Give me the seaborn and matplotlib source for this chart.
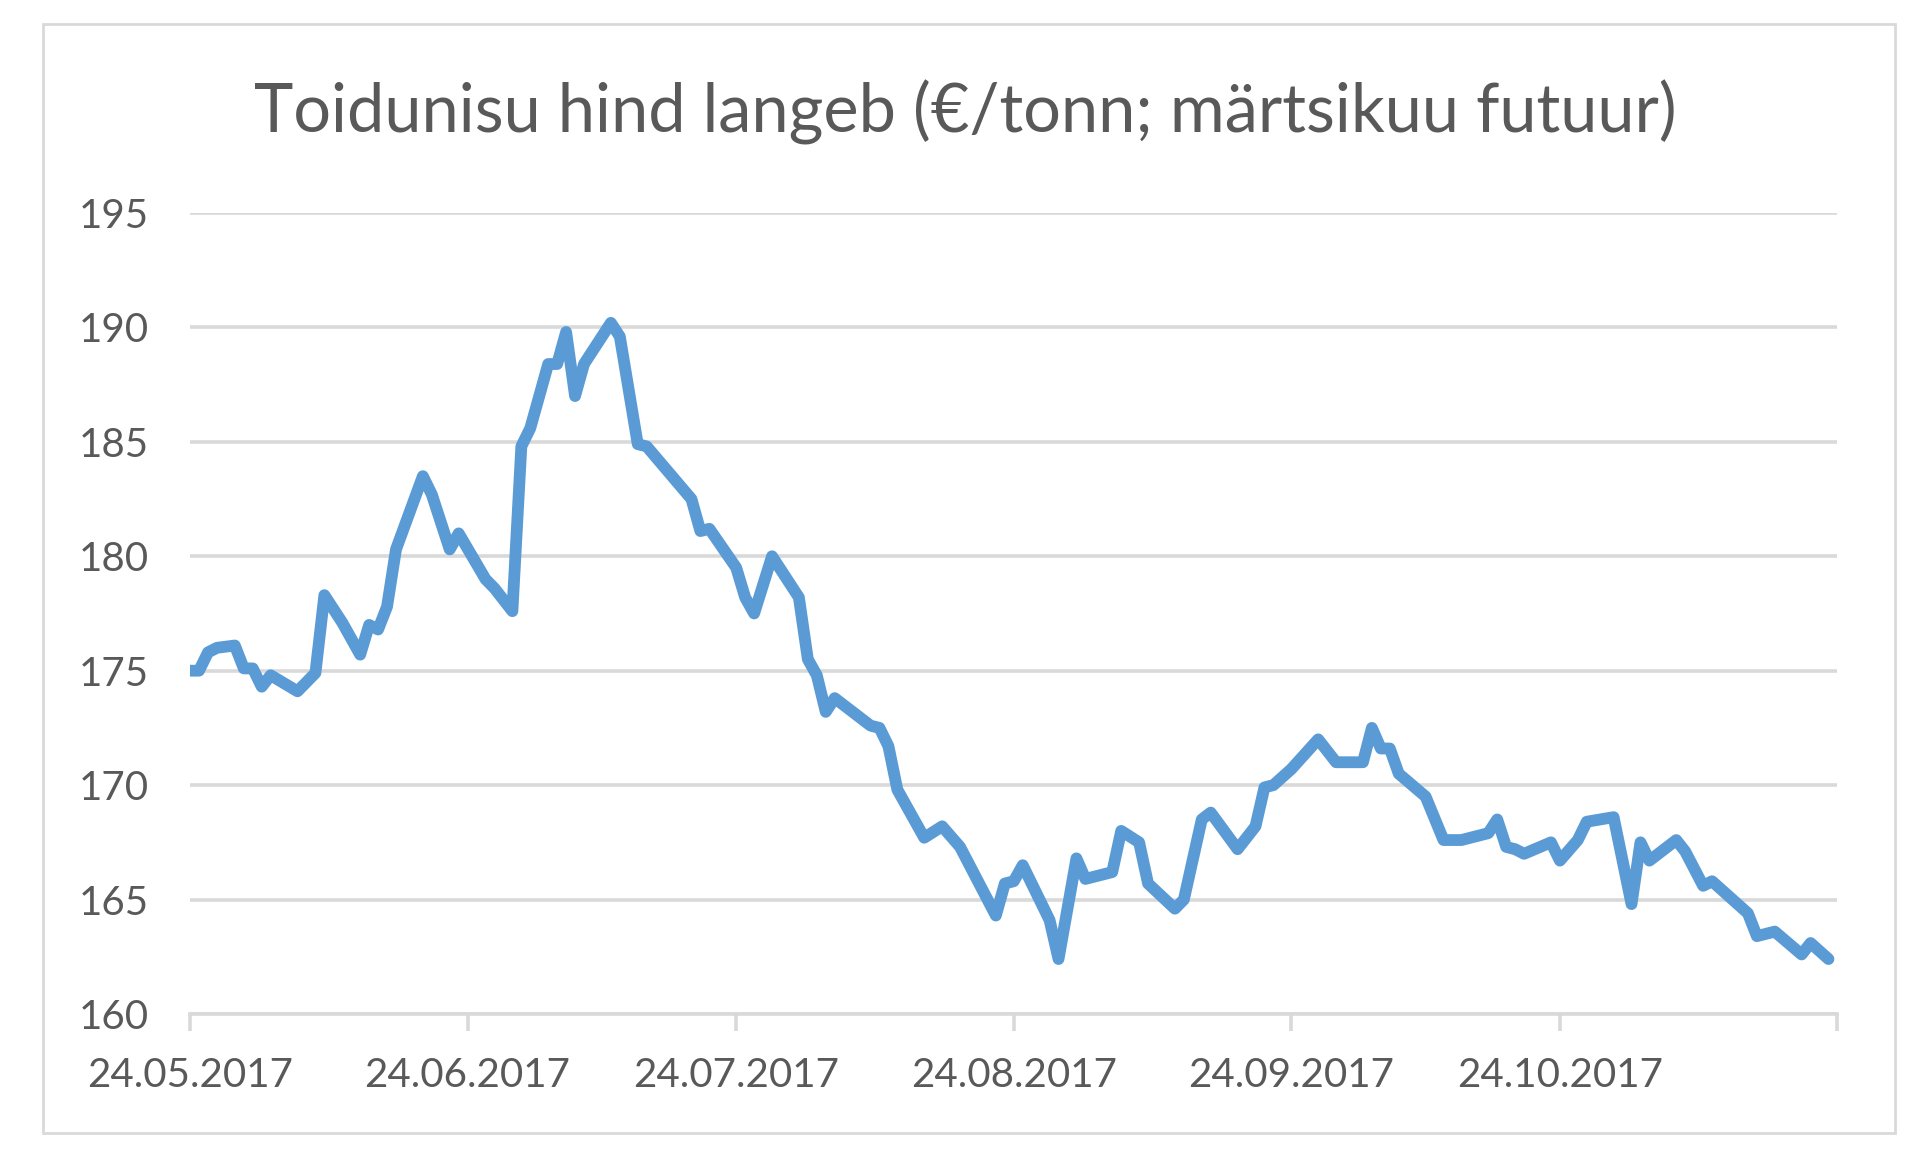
import pandas as pd
import seaborn as sns
import matplotlib.pyplot as plt
from matplotlib.patches import Rectangle

# data
dates = [
    "2017-05-24", "2017-05-25", "2017-05-26", "2017-05-27", "2017-05-29", "2017-05-30", "2017-05-31", "2017-06-01", "2017-06-02", "2017-06-05",
    "2017-06-07", "2017-06-08", "2017-06-10", "2017-06-12", "2017-06-13", "2017-06-14", "2017-06-15", "2017-06-16", "2017-06-19", "2017-06-20",
    "2017-06-22", "2017-06-23", "2017-06-26", "2017-06-27", "2017-06-29", "2017-06-30", "2017-07-01", "2017-07-03", "2017-07-04", "2017-07-05",
    "2017-07-06", "2017-07-07", "2017-07-10", "2017-07-11", "2017-07-13", "2017-07-14", "2017-07-19", "2017-07-20", "2017-07-21", "2017-07-24",
    "2017-07-25", "2017-07-26", "2017-07-28", "2017-07-31", "2017-08-01", "2017-08-02", "2017-08-03", "2017-08-04", "2017-08-08", "2017-08-09",
    "2017-08-10", "2017-08-11", "2017-08-14", "2017-08-16", "2017-08-18", "2017-08-22", "2017-08-23", "2017-08-24", "2017-08-25", "2017-08-28",
    "2017-08-29", "2017-08-31", "2017-09-01", "2017-09-04", "2017-09-05", "2017-09-07", "2017-09-08", "2017-09-11", "2017-09-12", "2017-09-14",
    "2017-09-15", "2017-09-18", "2017-09-20", "2017-09-21", "2017-09-22", "2017-09-24", "2017-09-27", "2017-09-29", "2017-10-02", "2017-10-03",
    "2017-10-04", "2017-10-05", "2017-10-06", "2017-10-09", "2017-10-11", "2017-10-13", "2017-10-16", "2017-10-17", "2017-10-18", "2017-10-19",
    "2017-10-20", "2017-10-23", "2017-10-24", "2017-10-26", "2017-10-27", "2017-10-30", "2017-11-01", "2017-11-02", "2017-11-03", "2017-11-06",
    "2017-11-07", "2017-11-09", "2017-11-10", "2017-11-14", "2017-11-15", "2017-11-17", "2017-11-20", "2017-11-21", "2017-11-23",
]
prices = [
    175.0, 175.0, 175.8, 176.0, 176.1, 175.1, 175.1, 174.3, 174.8, 174.1,
    174.9, 178.3, 177.1, 175.7, 177.0, 176.8, 177.8, 180.3, 183.5, 182.7,
    180.3, 181.0, 179.0, 178.6, 177.6, 184.8, 185.6, 188.4, 188.4, 189.8,
    187.0, 188.4, 190.2, 189.6, 184.9, 184.8, 182.5, 181.1, 181.2, 179.5,
    178.2, 177.5, 180.0, 178.2, 175.5, 174.8, 173.2, 173.8, 172.6, 172.5,
    171.7, 169.8, 167.7, 168.2, 167.3, 164.3, 165.7, 165.8, 166.5, 164.1,
    162.4, 166.8, 165.9, 166.2, 168.0, 167.5, 165.7, 164.6, 165.0, 168.5,
    168.8, 167.2, 168.2, 169.9, 170.0, 170.7, 172.0, 171.0, 171.0, 172.5,
    171.6, 171.6, 170.5, 169.5, 167.6, 167.6, 167.9, 168.5, 167.3, 167.2,
    167.0, 167.5, 166.7, 167.6, 168.4, 168.6, 164.8, 167.5, 166.7, 167.6,
    167.1, 165.6, 165.8, 164.4, 163.4, 163.6, 162.6, 163.1, 162.4,
]
tick_dates = ["2017-05-24", "2017-06-24", "2017-07-24", "2017-08-24", "2017-09-24", "2017-10-24", "2017-11-24"]
tick_labels = ["24.05.2017", "24.06.2017", "24.07.2017", "24.08.2017", "24.09.2017", "24.10.2017", ""]
y_ticks = [160, 165, 170, 175, 180, 185, 190, 195]

df = pd.DataFrame({"Kuupäev": pd.to_datetime(dates), "Hind": prices})

sns.set_style("white")
plt.rcParams["font.family"] = ["Lato", "DejaVu Sans"]

fig = plt.figure(figsize=(19.2, 11.55), dpi=100)
ax = fig.add_axes([0.099, 0.1221, 0.858, 0.6935])

# outer chart border
fig.patches.append(Rectangle((43 / 1920, 1 - 1133 / 1155), 1852 / 1920, 1109 / 1155,
                             transform=fig.transFigure, fill=False,
                             edgecolor="#d9d9d9", linewidth=2))

sns.lineplot(data=df, x="Kuupäev", y="Hind", ax=ax, color="#5b9bd5",
             linewidth=8.5, solid_joinstyle="round", solid_capstyle="round")

ax.set_ylim(160, 195)
ax.set_xlim(pd.Timestamp(tick_dates[0]), pd.Timestamp(tick_dates[-1]))
ax.set_yticks(y_ticks)
ax.set_xticks(pd.to_datetime(tick_dates))
ax.set_xticklabels(tick_labels)
ax.yaxis.grid(True, color="#d9d9d9", linewidth=2.6)
ax.set_axisbelow(True)

for side in ["top", "right", "left"]:
    ax.spines[side].set_visible(False)
ax.spines["bottom"].set_color("#d9d9d9")
ax.spines["bottom"].set_linewidth(2.6)
ax.spines["bottom"].set_zorder(1)

ax.tick_params(axis="y", length=0, pad=30, labelsize=29, labelcolor="#595959")
ax.tick_params(axis="x", direction="out", length=12, width=2.6, color="#d9d9d9",
               pad=19, labelsize=29, labelcolor="#595959", bottom=True)
ax.set_xlabel("")
ax.set_ylabel("")

fig.text(0.503, 0.903, "Toidunisu hind langeb (€/tonn; märtsikuu futuur)",
         ha="center", va="center", fontsize=48, color="#595959")

plt.savefig("out.png", dpi=100)
